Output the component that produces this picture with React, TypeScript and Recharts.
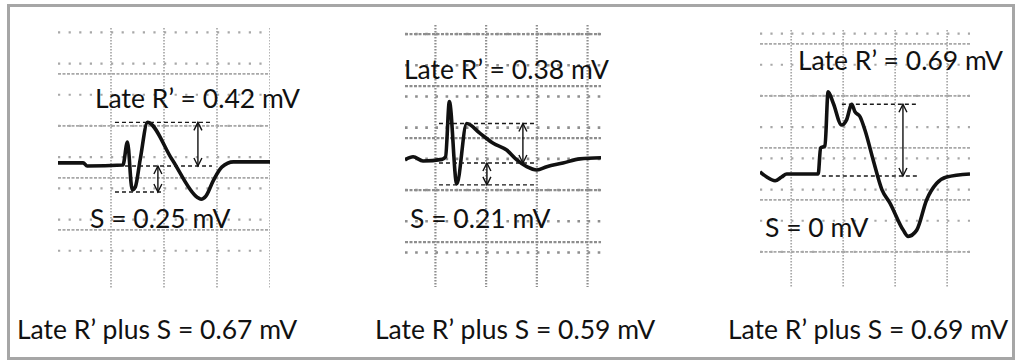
import { LineChart, Line, XAxis, YAxis, CartesianGrid, ReferenceLine } from "recharts";

// ECG strips: [time in ms from left edge of strip, amplitude in mV]
const trace1: [number, number][] = [
  [0, 0.03], [95, 0.03], [110, 0], [245, 0.01], [262, 0.23], [280, -0.23], [292, -0.2],
  [310, 0.06], [338, 0.42], [430, 0.065], [525, -0.3], [540, -0.32], [558, -0.29],
  [586, -0.14], [618, -0.01], [662, 0.04], [800, 0.04],
];
const trace2: [number, number][] = [
  [0, 0.03], [32, 0.06], [71, 0.02], [146, 0.035], [160, 0.06], [175, 0.59], [204, -0.2],
  [243, 0.38], [296, 0.285], [348, 0.19], [401, 0.125], [441, 0.03], [480, -0.035],
  [520, -0.067], [559, -0.035], [623, 0], [690, 0.04], [773, 0.05],
];
const trace3: [number, number][] = [
  [0, 0.04], [26, -0.01], [58, -0.045], [83, -0.01], [103, 0.02], [224, 0.02], [233, 0.27],
  [250, 0.29], [262, 0.81], [282, 0.7], [314, 0.49], [333, 0.54], [353, 0.69], [365, 0.62],
  [385, 0.57], [404, 0.44], [436, 0.15], [469, -0.13], [500, -0.26], [551, -0.52],
  [570, -0.58], [603, -0.52], [641, -0.23], [680, -0.07], [718, -0.01], [808, 0.02],
];

const lateR = [0.42, 0.38, 0.69];
const sWave = [0.25, 0.21, 0];
const lateRplusS = [0.67, 0.59, 0.69];

const traces = [trace1, trace2, trace3];

// layout of each strip on the page
const panels = [
  {
    left: 58, top: 28, width: 212, height: 260, span: 800, mv: [-1.173, 1.327],
    majorT: 0, majorMv: -0.115, dark: false,
    rSeg: [215, 581], midSeg: [253, 581], sSeg: [215, 396], rArrow: 528, sArrow: 377,
    rLabel: [95, 108], sLabel: [90, 228], bottom: 17,
  },
  {
    left: 405, top: 25, width: 196, height: 262, span: 773, mv: [-1.192, 1.327],
    majorT: 120, majorMv: 0.24, dark: true,
    rSeg: [134, 513], midSeg: [134, 513], sSeg: [134, 513], rArrow: 465, sArrow: 323,
    rLabel: [404, 79], sLabel: [410, 228], bottom: 375,
  },
  {
    left: 760, top: 30, width: 210, height: 257, span: 808, mv: [-1.067, 1.404],
    majorT: 120, majorMv: 0.27, dark: false,
    rSeg: [315, 604], midSeg: [238, 604], sSeg: null, rArrow: 550, sArrow: null,
    rLabel: [798, 70], sLabel: [765, 237], bottom: 728,
  },
];

// grid positions: every `step` through `phase`, clipped to [lo, hi]
const gridValues = (phase: number, lo: number, hi: number, step: number) => {
  const out: number[] = [];
  let v = phase - Math.ceil((phase - lo) / step) * step;
  for (; v <= hi + 1e-9; v += step) {
    if (v >= lo - 1e-9) out.push(Math.round(v * 1000) / 1000);
  }
  return out;
};

const fmt = (v: number) => (v === 0 ? "0" : v.toFixed(2));

function ArrowShape(props: any) {
  const { x1, y1, x2, y2 } = props;
  const top = Math.min(y1, y2);
  const bot = Math.max(y1, y2);
  return (
    <g stroke="#111" strokeWidth={1.4} fill="none">
      <line x1={x1} y1={top} x2={x2} y2={bot} />
      <polyline points={`${x1 - 4},${top + 8} ${x1},${top} ${x1 + 4},${top + 8}`} />
      <polyline points={`${x1 - 4},${bot - 8} ${x1},${bot} ${x1 + 4},${bot - 8}`} />
    </g>
  );
}

function Strip({ i }: { i: number }) {
  const p = panels[i];
  const data = traces[i].map(([t, mv]) => ({ t, mv }));
  const [lo, hi] = p.mv;
  const minorRows = gridValues(p.majorMv, lo, hi, 0.1);
  const majorRows = gridValues(p.majorMv, lo, hi, 0.5);
  const majorCols = gridValues(p.majorT, 0, p.span, 200);
  const minorPx = (40 * p.width) / p.span;
  const dotColor = p.dark ? "#8e8e8e" : "#a8a8a8";
  const dotSize = p.dark ? 2.6 : 2.2;
  const dash = { stroke: "#1a1a1a", strokeWidth: 1.4, strokeDasharray: "4 3" };

  return (
    <div style={{ position: "absolute", left: p.left, top: p.top }}>
      <LineChart width={p.width} height={p.height} data={data} margin={{ top: 0, right: 0, bottom: 0, left: 0 }}>
        <XAxis dataKey="t" type="number" domain={[0, p.span]} hide allowDataOverflow />
        <YAxis type="number" domain={[lo, hi]} hide allowDataOverflow />
        <CartesianGrid
          vertical={false}
          horizontalValues={minorRows}
          stroke={dotColor}
          strokeWidth={dotSize}
          strokeDasharray={`${dotSize} ${minorPx - dotSize}`}
        />
        <CartesianGrid
          vertical={false}
          horizontalValues={majorRows}
          stroke={dotColor}
          strokeWidth={p.dark ? 2.2 : 1.7}
          strokeDasharray="3 1.5"
        />
        <CartesianGrid
          horizontal={false}
          verticalValues={majorCols}
          stroke={dotColor}
          strokeWidth={p.dark ? 2.2 : 1.7}
          strokeDasharray="1.5 1.5"
        />
        <Line
          type="monotone"
          dataKey="mv"
          stroke="#111"
          strokeWidth={3.6}
          strokeLinejoin="round"
          dot={false}
          isAnimationActive={false}
        />
        <ReferenceLine segment={[{ x: p.rSeg[0], y: lateR[i] }, { x: p.rSeg[1], y: lateR[i] }]} {...dash} />
        <ReferenceLine segment={[{ x: p.midSeg[0], y: 0 }, { x: p.midSeg[1], y: 0 }]} {...dash} />
        {p.sSeg && (
          <ReferenceLine segment={[{ x: p.sSeg[0], y: -sWave[i] }, { x: p.sSeg[1], y: -sWave[i] }]} {...dash} />
        )}
        <ReferenceLine
          segment={[{ x: p.rArrow, y: lateR[i] }, { x: p.rArrow, y: 0 }]}
          shape={ArrowShape}
        />
        {p.sArrow !== null && (
          <ReferenceLine
            segment={[{ x: p.sArrow, y: 0 }, { x: p.sArrow, y: -sWave[i] }]}
            shape={ArrowShape}
          />
        )}
      </LineChart>
    </div>
  );
}

export default function App() {
  return (
    <div style={{ position: "fixed", left: 0, top: 0, width: 1015, height: 360, background: "#fff", overflow: "hidden" }}>
      <div
        style={{
          position: "absolute", left: 7, top: 4, width: 1008, height: 356,
          boxSizing: "border-box", border: "3.5px solid #a6a6a6",
        }}
      />
      {panels.map((_, i) => (
        <Strip key={i} i={i} />
      ))}
      <svg
        width={1015}
        height={360}
        style={{ position: "absolute", left: 0, top: 0, pointerEvents: "none" }}
        fontFamily="Lato, 'Open Sans', sans-serif"
        fill="#111"
      >
        {panels.map((p, i) => (
          <g key={i}>
            <text x={p.rLabel[0]} y={p.rLabel[1]} fontSize={26.5}>
              {`Late R’ = ${fmt(lateR[i])} mV`}
            </text>
            <text x={p.sLabel[0]} y={p.sLabel[1]} fontSize={26.5}>
              {`S = ${fmt(sWave[i])} mV`}
            </text>
            <text x={p.bottom} y={339} fontSize={26.5}>
              {`Late R’ plus S = ${fmt(lateRplusS[i])} mV`}
            </text>
          </g>
        ))}
      </svg>
    </div>
  );
}
